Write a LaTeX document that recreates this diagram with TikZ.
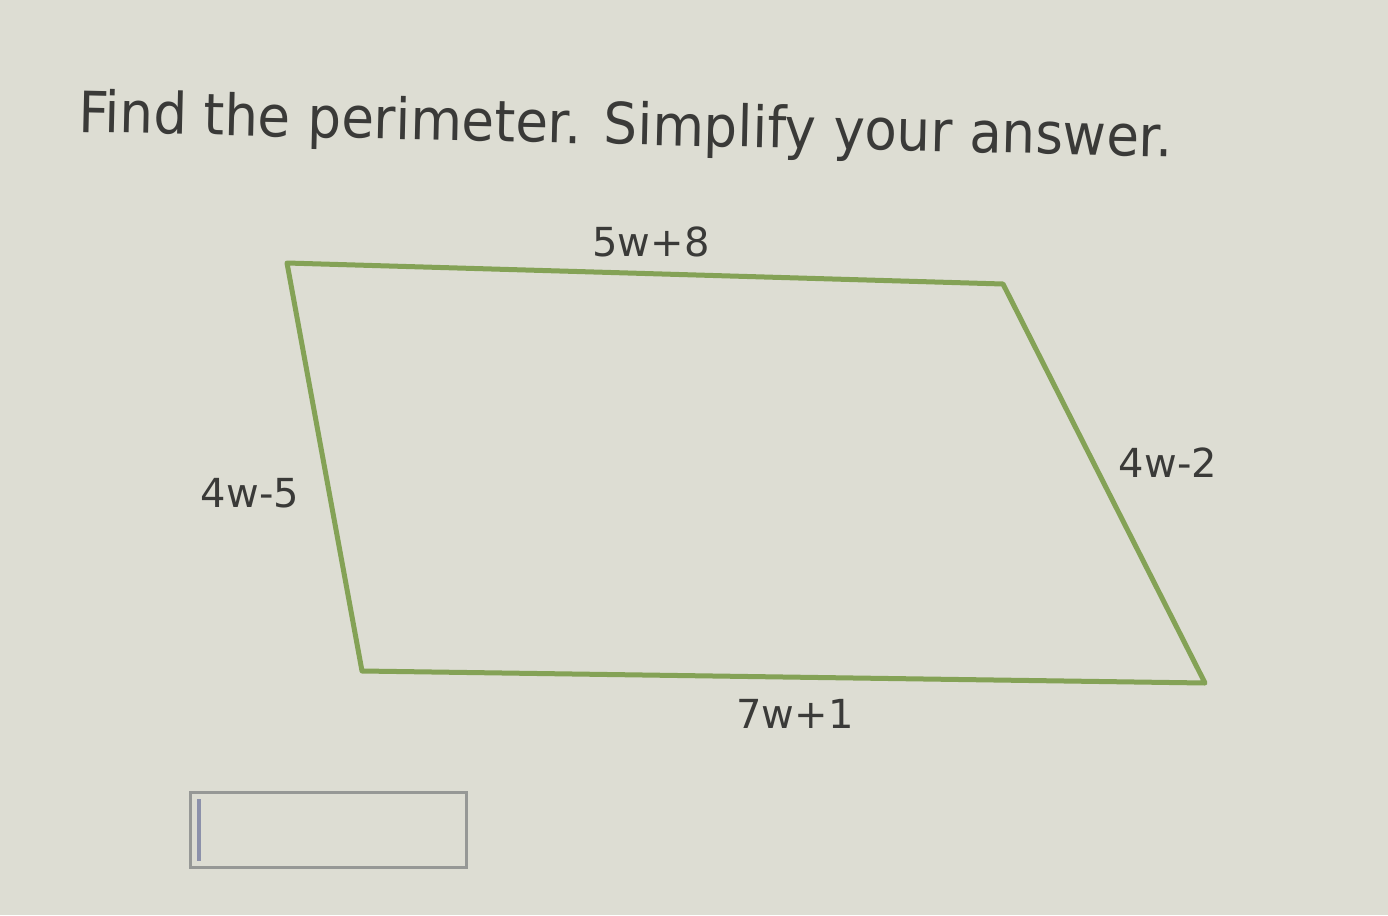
\documentclass[tikz,border=0pt]{standalone}
\usepackage{fontspec}
\setmainfont{DejaVu Sans}
\definecolor{bg}{RGB}{221,221,211}
\definecolor{edge}{RGB}{132,162,86}
\definecolor{ink}{RGB}{58,58,56}
\definecolor{boxline}{RGB}{150,152,150}
\definecolor{cursor}{RGB}{140,145,170}
\begin{document}
\begin{tikzpicture}[x=1pt,y=-1pt,
  side/.style={draw=edge,line width=5pt,line join=round},
  lab/.style={text=ink,font=\fontsize{40}{44}\selectfont,inner sep=0pt},
  title/.style={text=ink,font=\fontsize{57}{62}\selectfont,inner sep=0pt,anchor=base west}]
\fill[bg] (0,0) rectangle (1388,915);
\useasboundingbox (0,0) rectangle (1388,915);
\node[title,rotate=-1.3,xscale=0.93] (t) at (78,132) {Find the perimeter. Simplify your answer.};
\coordinate (A) at (287,263);
\coordinate (B) at (1003,284);
\coordinate (C) at (1205,683);
\coordinate (D) at (362,671);
\draw[side] (A) -- (B) -- (C) -- (D) -- cycle;
\node[lab] (top) at (651,242) {5w+8};
\node[lab] (left) at (250,493) {4w-5};
\node[lab] (right) at (1168,463) {4w-2};
\node[lab] (bottom) at (795,714) {7w+1};
\node[draw=boxline,line width=3pt,minimum width=276pt,minimum height=75pt,inner sep=0pt,anchor=north west] (box) at (189,791) {};
\draw[cursor,line width=4pt] ([xshift=10pt,yshift=-8pt]box.north west) coordinate (c1) -- ([xshift=10pt,yshift=8pt]box.south west) coordinate (c2);
\end{tikzpicture}
\end{document}
